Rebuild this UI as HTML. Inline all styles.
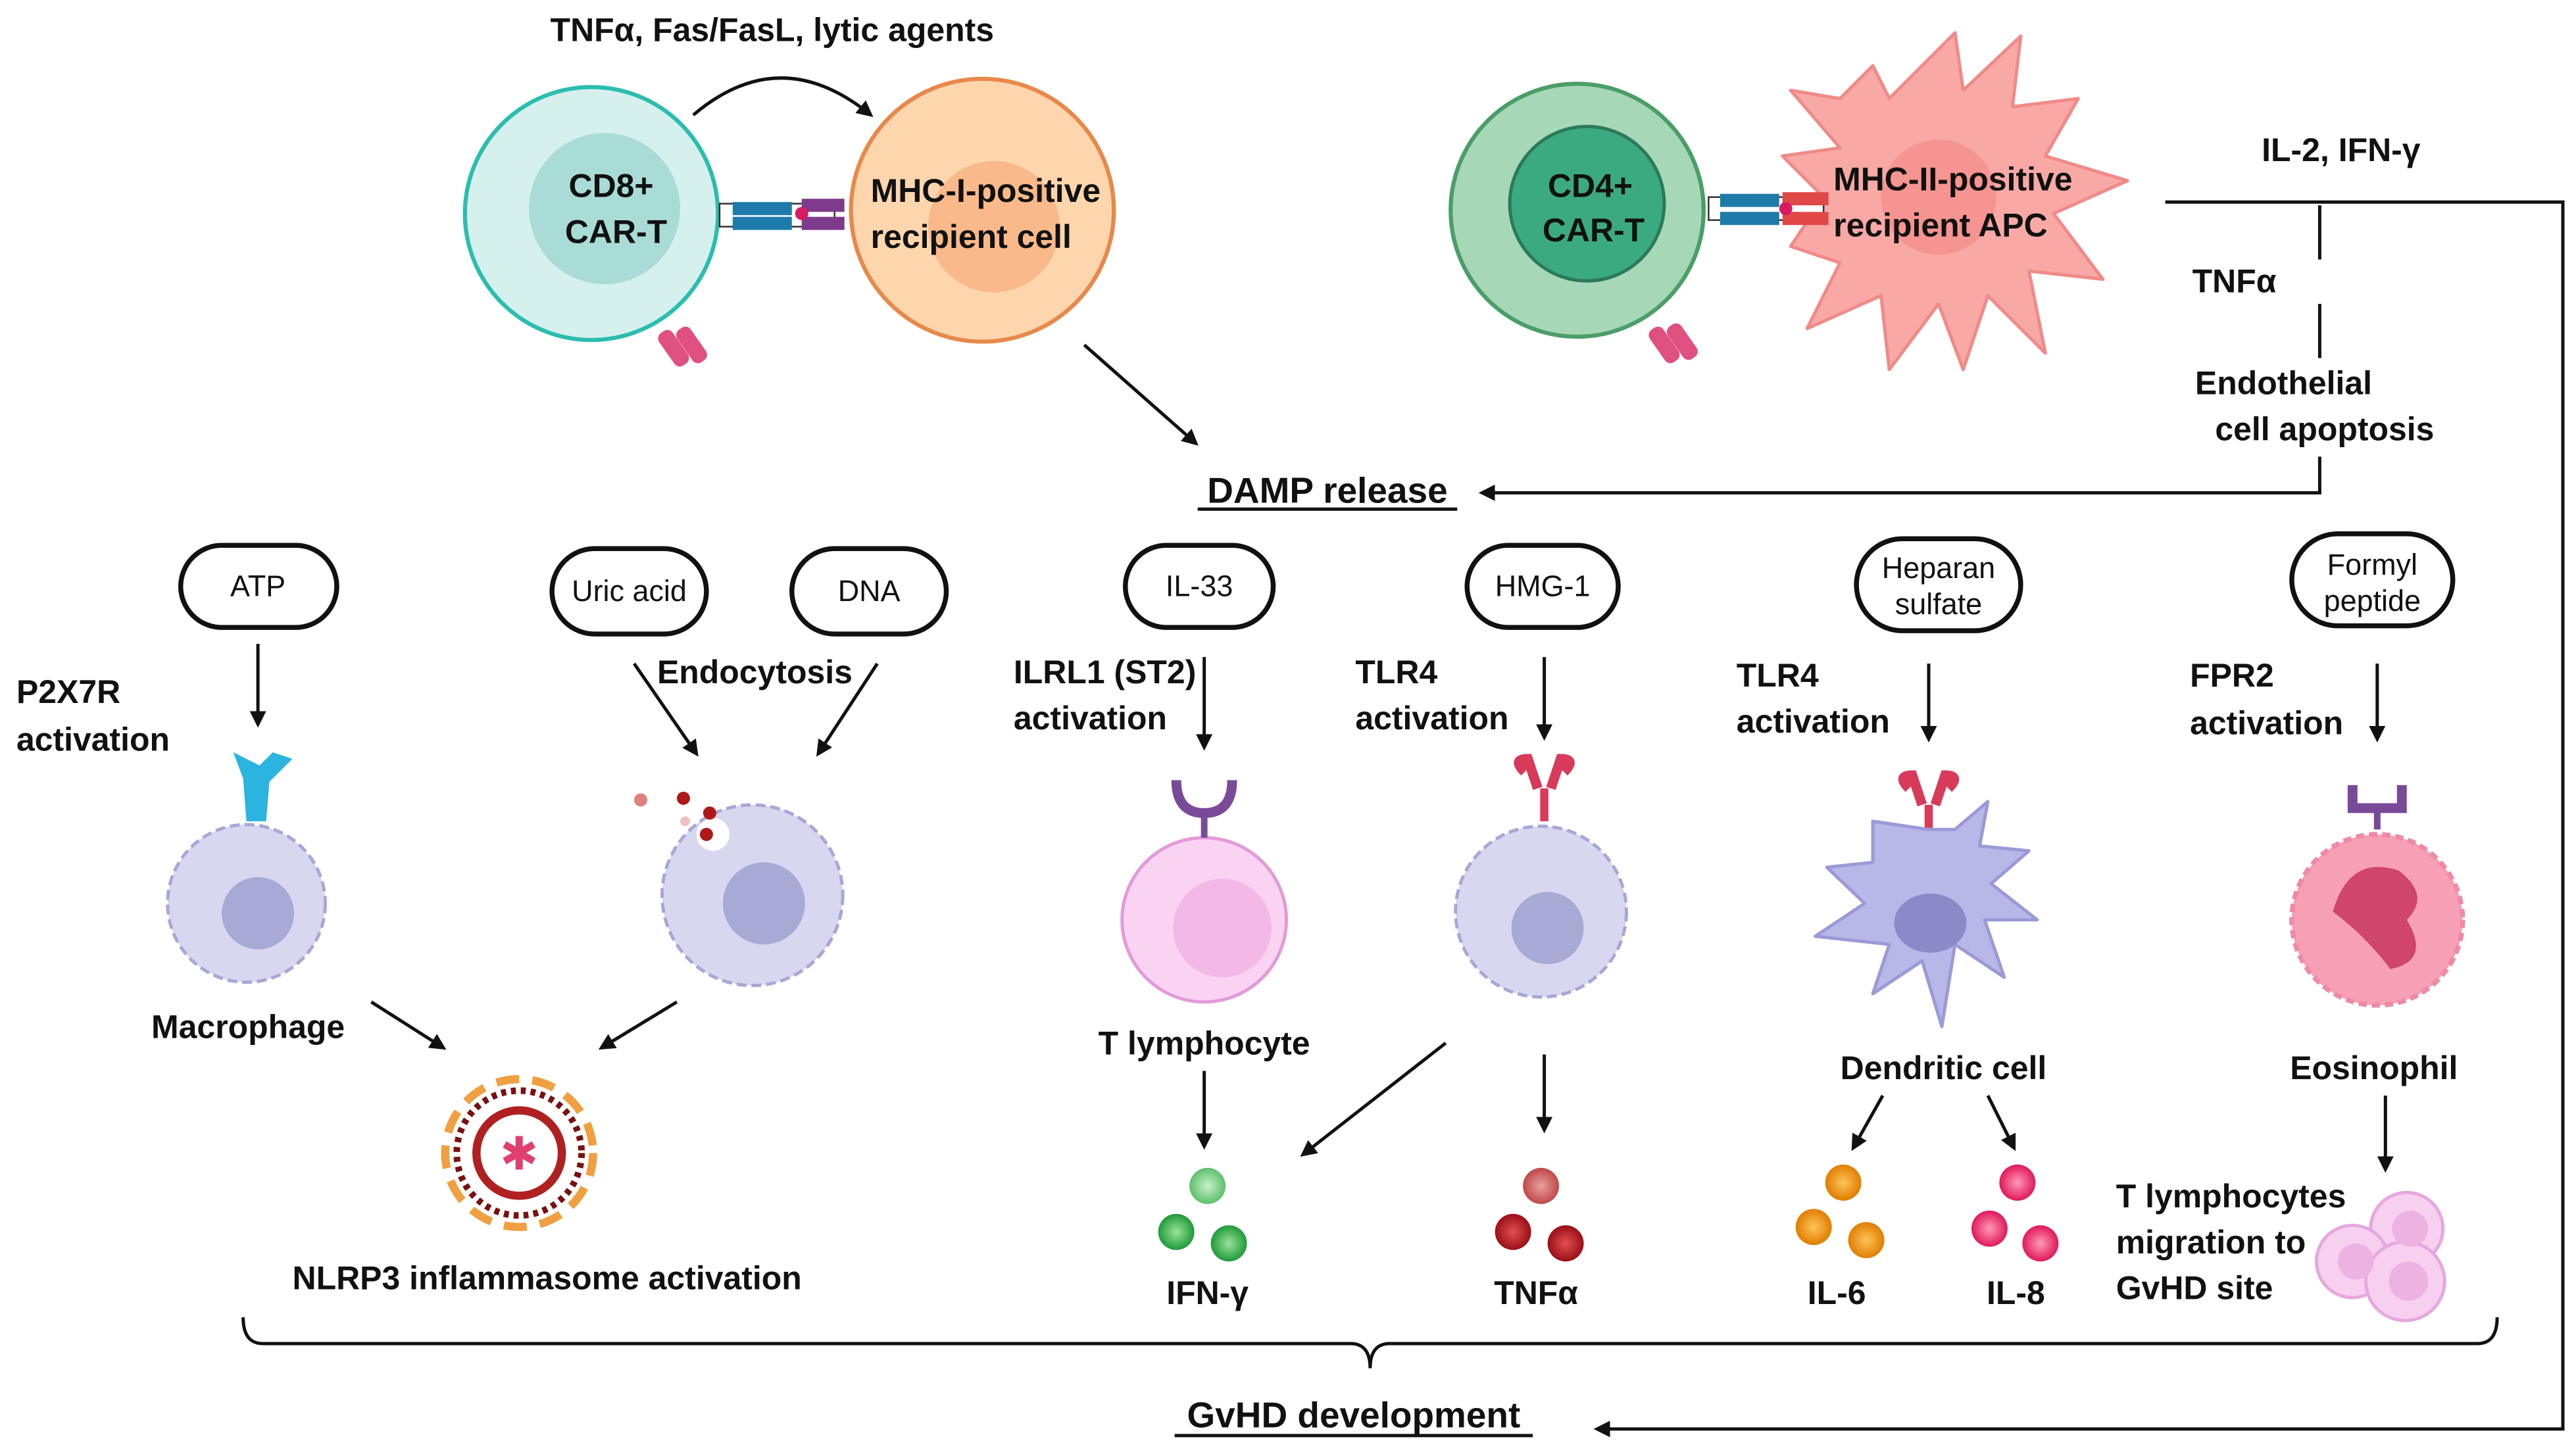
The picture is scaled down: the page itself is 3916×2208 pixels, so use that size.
<!DOCTYPE html>
<html><head><meta charset="utf-8"><style>
html,body{margin:0;padding:0;background:#fff;}
svg{display:block;}
text{font-family:"Liberation Sans",sans-serif;}
.b{font-weight:bold;font-size:20px;fill:#111;}
.p{font-size:18px;fill:#111;}
</style></head><body>
<svg width="3916" height="2208" viewBox="0 0 1568 884" preserveAspectRatio="none" xmlns="http://www.w3.org/2000/svg">
<defs>
<marker id="ah" markerWidth="10" markerHeight="10" refX="8" refY="5" orient="auto" markerUnits="userSpaceOnUse"><path d="M0,0 L10,5 L0,10 Z" fill="#111"/></marker>
<radialGradient id="g1"><stop offset="0" stop-color="#9be39b"/><stop offset="1" stop-color="#1f9a3a"/></radialGradient>
<radialGradient id="g2"><stop offset="0" stop-color="#e05050"/><stop offset="1" stop-color="#9a0f16"/></radialGradient>
<radialGradient id="g3"><stop offset="0" stop-color="#ffc45a"/><stop offset="1" stop-color="#e07d00"/></radialGradient>
<radialGradient id="g4"><stop offset="0" stop-color="#ff9ab8"/><stop offset="1" stop-color="#e0185a"/></radialGradient>
<radialGradient id="g5"><stop offset="0" stop-color="#c9f0c9"/><stop offset="1" stop-color="#5cc06c"/></radialGradient>
<radialGradient id="g6"><stop offset="0" stop-color="#e8a0a0"/><stop offset="1" stop-color="#c04848"/></radialGradient>
</defs>
<g stroke="#111" stroke-width="2" fill="none">
<!-- top -->
<path d="M422,70 Q475,25 530,70" marker-end="url(#ah)"/>
<line x1="660" y1="210" x2="728" y2="270" marker-end="url(#ah)"/>
<polyline points="1318,123 1560,123 1560,870 972,870" marker-end="url(#ah)"/>
<line x1="1412" y1="125" x2="1412" y2="158"/>
<line x1="1412" y1="185" x2="1412" y2="218"/>
<polyline points="1412,278 1412,300 902,300" marker-end="url(#ah)"/>
<!-- vertical arrows -->
<line x1="157" y1="392" x2="157" y2="441" marker-end="url(#ah)"/>
<line x1="386" y1="404" x2="424" y2="459" marker-end="url(#ah)"/>
<line x1="534" y1="404" x2="498" y2="459" marker-end="url(#ah)"/>
<line x1="733" y1="400" x2="733" y2="455" marker-end="url(#ah)"/>
<line x1="940" y1="400" x2="940" y2="449" marker-end="url(#ah)"/>
<line x1="1174" y1="404" x2="1174" y2="450" marker-end="url(#ah)"/>
<line x1="1447" y1="404" x2="1447" y2="450" marker-end="url(#ah)"/>
<line x1="226" y1="610" x2="270" y2="638" marker-end="url(#ah)"/>
<line x1="412" y1="610" x2="366" y2="638" marker-end="url(#ah)"/>
<line x1="733" y1="652" x2="733" y2="698" marker-end="url(#ah)"/>
<line x1="880" y1="635" x2="793" y2="703" marker-end="url(#ah)"/>
<line x1="940" y1="642" x2="940" y2="688" marker-end="url(#ah)"/>
<line x1="1146" y1="667" x2="1128" y2="699" marker-end="url(#ah)"/>
<line x1="1210" y1="667" x2="1226" y2="699" marker-end="url(#ah)"/>
<line x1="1452" y1="667" x2="1452" y2="712" marker-end="url(#ah)"/>
<!-- bracket -->
<path d="M148,802 Q148,818 160,818 L822,818 Q834,818 834,833 Q834,818 846,818 L1508,818 Q1520,818 1520,802"/>
</g>
<!-- pills -->
<g stroke="#111" stroke-width="3" fill="#fff">
<rect x="110" y="332" width="95" height="50" rx="25"/>
<rect x="336" y="334" width="94" height="52" rx="26"/>
<rect x="482" y="334" width="94" height="52" rx="26"/>
<rect x="685" y="332" width="90" height="50" rx="25"/>
<rect x="893" y="332" width="92" height="50" rx="25"/>
<rect x="1130" y="328" width="100" height="56" rx="28"/>
<rect x="1395" y="325" width="98" height="56" rx="28"/>
</g>
<g class="p" text-anchor="middle">
<text x="157" y="363">ATP</text>
<text x="383" y="366">Uric acid</text>
<text x="529" y="366">DNA</text>
<text x="730" y="363">IL-33</text>
<text x="939" y="363">HMG-1</text>
<text x="1180" y="352">Heparan</text>
<text x="1180" y="374">sulfate</text>
<text x="1444" y="350">Formyl</text>
<text x="1444" y="372">peptide</text>
</g>
<!-- top cells -->
<circle cx="360" cy="130" r="77" fill="#d6f0ee" stroke="#2bbdb0" stroke-width="2.5"/>
<circle cx="368" cy="127" r="46" fill="#a9dcd6"/>
<circle cx="598" cy="128" r="80" fill="#fdd6ae" stroke="#e8884a" stroke-width="2.5"/>
<circle cx="605" cy="138" r="40" fill="#f9b98a"/>
<rect x="438" y="124" width="70" height="14" fill="#fff" stroke="#333"/>
<rect x="446" y="123" width="36" height="8" fill="#1e7aa8"/><rect x="446" y="132" width="36" height="8" fill="#1e7aa8"/>
<rect x="488" y="121" width="26" height="8" fill="#7e3a8c"/><rect x="488" y="132" width="26" height="8" fill="#7e3a8c"/>
<circle cx="488" cy="130" r="4" fill="#d81b60"/>
<rect x="405" y="200" width="10" height="24" rx="4" fill="#e05080" transform="rotate(-35 410 212)"/>
<rect x="416" y="198" width="10" height="24" rx="4" fill="#e05080" transform="rotate(-35 421 210)"/>
<circle cx="960" cy="128" r="77" fill="#a6d7b6" stroke="#4a9e68" stroke-width="2.5"/>
<circle cx="966" cy="124" r="47" fill="#3caa80" stroke="#2a7a5a" stroke-width="2"/>
<rect x="1008" y="198" width="10" height="24" rx="4" fill="#e05080" transform="rotate(-35 1013 210)"/>
<rect x="1019" y="196" width="10" height="24" rx="4" fill="#e05080" transform="rotate(-35 1024 208)"/>
<path d="M1120,60 L1140,40 L1150,60 L1190,20 L1195,55 L1230,22 L1225,65 L1265,60 L1245,95 L1295,110 L1250,130 L1280,170 L1235,165 L1245,215 L1210,180 L1195,225 L1180,185 L1150,225 L1145,180 L1100,200 L1120,160 L1090,150 L1110,120 L1085,95 L1120,90 L1090,55 Z" fill="#f8a9a6" stroke="#f08a88" stroke-width="2" stroke-linejoin="round"/>
<circle cx="1180" cy="120" r="35" fill="#f59490"/>
<rect x="1040" y="120" width="70" height="14" fill="#fff" stroke="#333"/>
<rect x="1047" y="118" width="36" height="8" fill="#1e7aa8"/><rect x="1047" y="129" width="36" height="8" fill="#1e7aa8"/>
<rect x="1085" y="117" width="28" height="8" fill="#e04848"/><rect x="1085" y="129" width="28" height="8" fill="#e04848"/>
<circle cx="1087" cy="127" r="4" fill="#d81b60"/>
<g class="b">
<text x="470" y="25" text-anchor="middle">TNFα, Fas/FasL, lytic agents</text>
<text x="372" y="120" text-anchor="middle">CD8+</text><text x="375" y="148" text-anchor="middle">CAR-T</text>
<text x="530" y="123">MHC-I-positive</text><text x="530" y="151">recipient cell</text>
<text x="968" y="120" text-anchor="middle">CD4+</text><text x="970" y="147" text-anchor="middle">CAR-T</text>
<text x="1116" y="116">MHC-II-positive</text><text x="1116" y="144">recipient APC</text>
<text x="1425" y="98" text-anchor="middle">IL-2, IFN-γ</text>
<text x="1360" y="178" text-anchor="middle">TNFα</text>
<text x="1390" y="240" text-anchor="middle">Endothelial</text>
<text x="1415" y="268" text-anchor="middle">cell apoptosis</text>
<text x="808" y="306" text-anchor="middle" font-size="22">DAMP release</text>
<text x="10" y="428">P2X7R</text><text x="10" y="457">activation</text>
<text x="400" y="416">Endocytosis</text>
<text x="617" y="416">ILRL1 (ST2)</text><text x="617" y="444">activation</text>
<text x="825" y="416">TLR4</text><text x="825" y="444">activation</text>
<text x="1057" y="418">TLR4</text><text x="1057" y="446">activation</text>
<text x="1333" y="418">FPR2</text><text x="1333" y="447">activation</text>
<text x="151" y="632" text-anchor="middle">Macrophage</text>
<text x="733" y="642" text-anchor="middle">T lymphocyte</text>
<text x="1183" y="657" text-anchor="middle">Dendritic cell</text>
<text x="1445" y="657" text-anchor="middle">Eosinophil</text>
<text x="333" y="785" text-anchor="middle">NLRP3 inflammasome activation</text>
<text x="735" y="794" text-anchor="middle">IFN-γ</text>
<text x="935" y="794" text-anchor="middle">TNFα</text>
<text x="1118" y="794" text-anchor="middle">IL-6</text>
<text x="1227" y="794" text-anchor="middle">IL-8</text>
<text x="1288" y="735">T lymphocytes</text><text x="1288" y="763">migration to</text><text x="1288" y="791">GvHD site</text>
<text x="824" y="869" text-anchor="middle" font-size="22">GvHD development</text>
</g>
<line x1="729" y1="310" x2="887" y2="310" stroke="#111" stroke-width="2"/>
<line x1="715" y1="874" x2="933" y2="874" stroke="#111" stroke-width="2"/>
<!-- macrophages -->
<g fill="#d7d7ef" stroke="#a8a8d6" stroke-width="2" stroke-dasharray="6 3">
<circle cx="150" cy="550" r="48"/>
<circle cx="458" cy="545" r="55"/>
<circle cx="938" cy="555" r="52"/>
</g>
<circle cx="157" cy="556" r="22" fill="#a9a9d6"/>
<circle cx="465" cy="550" r="25" fill="#a9a9d6"/>
<circle cx="942" cy="565" r="22" fill="#a9a9d6"/>
<path d="M142,458 L148,474 L150,500 L162,500 L164,476 L178,462 L166,458 L158,466 Z" fill="#2bb4df"/>
<circle cx="434" cy="508" r="10" fill="#fff"/>
<circle cx="390" cy="487" r="4" fill="#e08080"/><circle cx="416" cy="486" r="4" fill="#b01818"/><circle cx="432" cy="495" r="4" fill="#b01818"/><circle cx="417" cy="500" r="3" fill="#f0c0c0"/><circle cx="430" cy="508" r="4" fill="#b01818"/>
<!-- T lymphocyte -->
<circle cx="733" cy="560" r="50" fill="#fbd3f2" stroke="#e39ad8" stroke-width="2"/>
<circle cx="744" cy="565" r="30" fill="#f3b8e6"/>
<path d="M716,475 Q716,495 733,495 Q750,495 750,475" stroke="#7a4a9a" stroke-width="6" fill="none"/>
<line x1="733" y1="495" x2="733" y2="510" stroke="#7a4a9a" stroke-width="4"/>
<!-- TLR4 receptors -->
<g fill="none" stroke="#d83a5a" stroke-width="6">
<path d="M928,470 Q920,462 930,462 L936,480 M952,470 Q960,462 950,462 L944,480"/>
<path d="M1162,480 Q1154,472 1164,472 L1170,490 M1186,480 Q1194,472 1184,472 L1178,490"/>
</g>
<line x1="940" y1="480" x2="940" y2="500" stroke="#d83a5a" stroke-width="5"/>
<line x1="1174" y1="490" x2="1174" y2="510" stroke="#d83a5a" stroke-width="5"/>
<!-- dendritic -->
<path d="M1174,505 L1190,505 L1210,488 L1205,515 L1235,518 L1212,538 L1240,560 L1208,560 L1220,595 L1190,575 L1182,625 L1170,585 L1140,605 L1150,575 L1105,570 L1135,550 L1112,528 L1140,525 L1140,500 Z" fill="#b7b7e8" stroke="#9a9ad8" stroke-width="2" stroke-linejoin="round"/>
<ellipse cx="1175" cy="562" rx="22" ry="18" fill="#8a8ac8"/>
<!-- eosinophil -->
<path d="M1432,478 L1432,492 L1462,492 L1462,478" fill="none" stroke="#7a4a9a" stroke-width="6"/>
<line x1="1447" y1="492" x2="1447" y2="505" stroke="#7a4a9a" stroke-width="4"/>
<circle cx="1447" cy="560" r="52" fill="#f7a0b5" stroke="#ee8aa4" stroke-width="3" stroke-dasharray="5 3"/>
<path d="M1420,555 Q1430,520 1460,530 Q1480,545 1465,560 Q1480,585 1455,590 Q1440,570 1420,555Z" fill="#d0456a"/>
<!-- inflammasome -->
<circle cx="316" cy="702" r="26" fill="#fff" stroke="#b02020" stroke-width="5"/>
<circle cx="316" cy="702" r="45" fill="none" stroke="#f0a040" stroke-width="5" stroke-dasharray="14 8"/>
<circle cx="316" cy="702" r="38" fill="none" stroke="#7a1010" stroke-width="4" stroke-dasharray="3 3"/>
<text x="316" y="712" text-anchor="middle" font-size="28" fill="#e04070">✱</text>
<!-- cytokines -->
<circle cx="735" cy="722" r="11" fill="url(#g5)"/><circle cx="716" cy="750" r="11" fill="url(#g1)"/><circle cx="748" cy="757" r="11" fill="url(#g1)"/>
<circle cx="938" cy="722" r="11" fill="url(#g6)"/><circle cx="921" cy="750" r="11" fill="url(#g2)"/><circle cx="953" cy="757" r="11" fill="url(#g2)"/>
<circle cx="1122" cy="720" r="11" fill="url(#g3)"/><circle cx="1104" cy="747" r="11" fill="url(#g3)"/><circle cx="1136" cy="755" r="11" fill="url(#g3)"/>
<circle cx="1228" cy="720" r="11" fill="url(#g4)"/><circle cx="1211" cy="748" r="11" fill="url(#g4)"/><circle cx="1242" cy="757" r="11" fill="url(#g4)"/>
<!-- T lymphocytes cluster -->
<g fill="#f7d0f0" stroke="#e6a8de" stroke-width="2">
<circle cx="1465" cy="748" r="22"/><circle cx="1432" cy="768" r="22"/><circle cx="1464" cy="780" r="24"/>
</g>
<g fill="#eeb2e2"><circle cx="1467" cy="748" r="11"/><circle cx="1434" cy="768" r="11"/><circle cx="1466" cy="780" r="12"/></g>
</svg>
</body></html>
